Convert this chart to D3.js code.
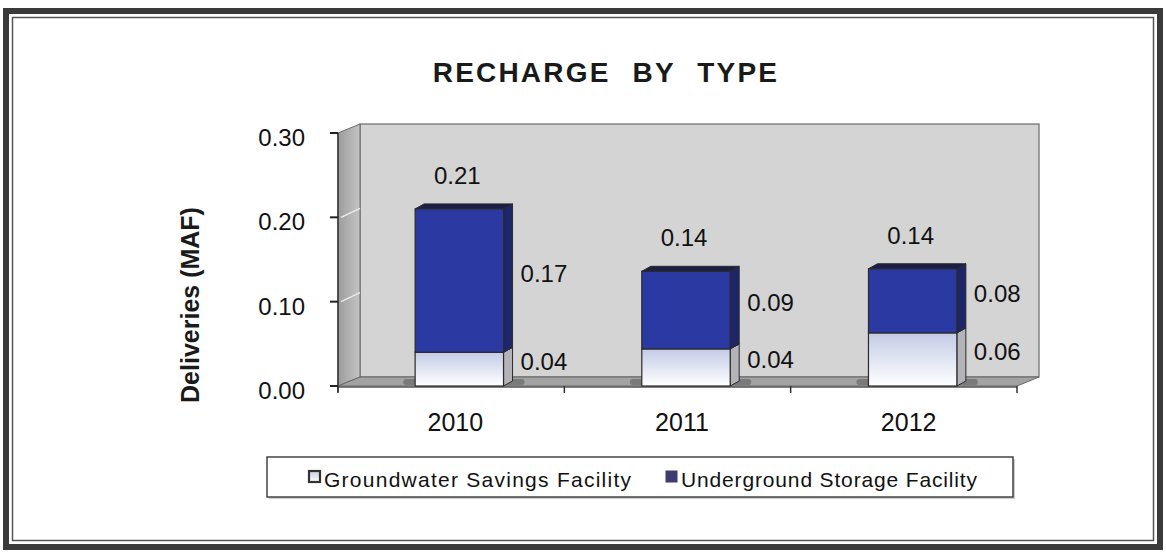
<!DOCTYPE html>
<html><head><meta charset="utf-8">
<script src="https://cdn.jsdelivr.net/npm/d3@7"></script>
<style>html,body{margin:0;padding:0;background:#fff;}svg{display:block;font-family:Arial,"Liberation Sans",sans-serif;}</style>
</head><body>
<svg id="c" width="1166" height="553"></svg>
<script>
const categories = ["2010", "2011", "2012"];
const seriesNames = ["Groundwater Savings Facility", "Underground Storage Facility"];
const groundwaterSavings = [0.04, 0.044, 0.063];
const undergroundStorage = [0.17, 0.092, 0.076];
const yTicks = [0.00, 0.10, 0.20, 0.30];
const titleText = "RECHARGE BY TYPE";
const yTitle = "Deliveries (MAF)";

const svg = d3.select("#c");
const W = 1166, H = 553;
svg.append("rect").attr("width", W).attr("height", H).attr("fill", "#fff");

const defs = svg.append("defs");
const g1 = defs.append("linearGradient").attr("id", "gsfGrad").attr("x1", 0).attr("y1", 0).attr("x2", 0).attr("y2", 1);
g1.append("stop").attr("offset", "0%").attr("stop-color", "#c3cbe6");
g1.append("stop").attr("offset", "100%").attr("stop-color", "#ffffff");
const g2 = defs.append("linearGradient").attr("id", "sideWall").attr("x1", 0).attr("y1", 0).attr("x2", 1).attr("y2", 0);
g2.append("stop").attr("offset", "0%").attr("stop-color", "#9c9c9c");
g2.append("stop").attr("offset", "100%").attr("stop-color", "#c4c4c4");
const g3 = defs.append("linearGradient").attr("id", "legGrad").attr("x1", 0).attr("y1", 0).attr("x2", 0).attr("y2", 1);
g3.append("stop").attr("offset", "0%").attr("stop-color", "#c8cde0");
g3.append("stop").attr("offset", "100%").attr("stop-color", "#ffffff");

// outer frame
svg.append("rect").attr("x", 6).attr("y", 11).attr("width", 1154).attr("height", 536)
  .attr("fill", "none").attr("stroke", "#3a3a3a").attr("stroke-width", 6);
svg.append("rect").attr("x", 12.5).attr("y", 17.5).attr("width", 1141).attr("height", 523)
  .attr("fill", "none").attr("stroke", "#555").attr("stroke-width", 1.5);

// title
svg.append("text").attr("x", 606).attr("y", 82).attr("text-anchor", "middle")
  .attr("font-size", 28).attr("font-weight", "bold").attr("fill", "#1a1a1a")
  .attr("letter-spacing", 2.2).attr("word-spacing", 12).text(titleText);

// scales
const y = d3.scaleLinear().domain([0, 0.30]).range([386, 133]);
const xFrame = d3.scaleBand().domain(categories).range([338, 1017]);
const x = d3.scaleBand().domain(categories).range([346, 1026]).paddingInner(0.61).paddingOuter(0.305);

const wallDX = 22, wallDY = -9;
const x0 = xFrame.range()[0], x1 = xFrame.range()[1];
const yTop = y(0.30), yBase = y(0);

// back wall
svg.append("rect").attr("x", x0 + wallDX).attr("y", yTop + wallDY).attr("width", x1 - x0)
  .attr("height", yBase - yTop).attr("fill", "#d4d4d4").attr("stroke", "#6a6a6a").attr("stroke-width", 1.2);
// side wall
svg.append("polygon").attr("points", [[x0, yTop], [x0 + wallDX, yTop + wallDY], [x0 + wallDX, yBase + wallDY], [x0, yBase]].join(" "))
  .attr("fill", "url(#sideWall)").attr("stroke", "#6a6a6a").attr("stroke-width", 1);
// side wall gridlines
svg.selectAll(".sg").data(yTicks.slice(1, 3)).join("line")
  .attr("x1", x0 + 3).attr("x2", x0 + wallDX).attr("y1", d => y(d)).attr("y2", d => y(d) + wallDY)
  .attr("stroke", "#eeeeee").attr("stroke-width", 1.2);
// floor
svg.append("polygon").attr("points", [[x0, yBase], [x0 + wallDX, yBase + wallDY], [x1 + wallDX, yBase + wallDY], [x1, yBase]].join(" "))
  .attr("fill", "#a3a3a3").attr("stroke", "#666").attr("stroke-width", 1);

// y axis
svg.append("line").attr("x1", x0).attr("x2", x0).attr("y1", yTop).attr("y2", yBase + 6).attr("stroke", "#333").attr("stroke-width", 1.5);
svg.selectAll(".yt").data(yTicks).join("line")
  .attr("x1", x0 - 8).attr("x2", x0).attr("y1", d => y(d)).attr("y2", d => y(d))
  .attr("stroke", "#222").attr("stroke-width", 2);
svg.selectAll(".yl").data(yTicks).join("text")
  .attr("x", 305).attr("y", d => y(d) + 13).attr("text-anchor", "end")
  .attr("font-size", 24).attr("fill", "#111").text(d => d.toFixed(2));

// x axis
svg.append("line").attr("x1", x0).attr("x2", x1).attr("y1", yBase + 1).attr("y2", yBase + 1).attr("stroke", "#555").attr("stroke-width", 1.5);
const xTickPos = categories.map(c => xFrame(c)).concat([x1]);
svg.selectAll(".xt").data(xTickPos).join("line")
  .attr("x1", d => d).attr("x2", d => d).attr("y1", yBase).attr("y2", yBase + 7)
  .attr("stroke", "#333").attr("stroke-width", 1.5);
svg.selectAll(".xl").data(categories).join("text")
  .attr("x", c => x(c) + x.bandwidth() / 2 - 4).attr("y", 431).attr("text-anchor", "middle")
  .attr("font-size", 25).attr("fill", "#111").text(c => c);

// y title
svg.append("text").attr("transform", "translate(199,305) rotate(-90)").attr("text-anchor", "middle")
  .attr("font-size", 25).attr("font-weight", "bold").attr("fill", "#1a1a1a").text(yTitle);

// data
const rows = categories.map((c, i) => ({ cat: c, gsf: groundwaterSavings[i], usf: undergroundStorage[i] }));
const stack = d3.stack().keys(["gsf", "usf"])(rows);
const bw = x.bandwidth();
const dx = 9, dy = -5;

// base shadows
svg.selectAll(".shadow").data(rows).join("rect")
  .attr("x", d => x(d.cat) - 12).attr("y", yBase - 7).attr("width", bw + dx + 24).attr("height", 6)
  .attr("rx", 3).attr("fill", "#7a7a7a");

const styles = {
  gsf: { front: "url(#gsfGrad)", side: "#b4b4b8", top: "#e4e6ee" },
  usf: { front: "#2b3aa2", side: "#1c2668", top: "#1b1f48" }
};

stack.forEach(layer => {
  const key = layer.key, st = styles[key];
  const g = svg.append("g");
  layer.forEach(seg => {
    const c = seg.data.cat;
    const xl = x(c), xr = xl + bw;
    const yt = y(seg[1]), yb = y(seg[0]);
    g.append("polygon").attr("points", [[xr, yt], [xr + dx, yt + dy], [xr + dx, yb + dy], [xr, yb]].join(" "))
      .attr("fill", st.side).attr("stroke", "#2a2a2a").attr("stroke-width", 1);
    g.append("polygon").attr("points", [[xl, yt], [xl + dx, yt + dy], [xr + dx, yt + dy], [xr, yt]].join(" "))
      .attr("fill", st.top).attr("stroke", "#2a2a2a").attr("stroke-width", 1);
    g.append("rect").attr("x", xl).attr("y", yt).attr("width", bw).attr("height", yb - yt)
      .attr("fill", st.front).attr("stroke", "#2a2a2a").attr("stroke-width", 1.2);
  });
});

// segment labels
stack.forEach(layer => {
  svg.selectAll(".sl-" + layer.key).data(layer).join("text")
    .attr("x", d => x(d.data.cat) + bw + dx + 8)
    .attr("y", d => (y(d[0]) + y(d[1])) / 2 + 1)
    .attr("font-size", 24).attr("fill", "#111")
    .text(d => (d[1] - d[0]).toFixed(2));
});
// total labels
svg.selectAll(".tl").data(rows).join("text")
  .attr("x", d => x(d.cat) + bw / 2 - 2).attr("y", d => y(d.gsf + d.usf) - 25)
  .attr("text-anchor", "middle").attr("font-size", 24).attr("fill", "#111")
  .text(d => (d.gsf + d.usf).toFixed(2));

// legend
const leg = svg.append("g");
leg.append("rect").attr("x", 269).attr("y", 459).attr("width", 746).attr("height", 40).attr("fill", "#cfcfcf");
leg.append("rect").attr("x", 267).attr("y", 457).attr("width", 746).attr("height", 40)
  .attr("fill", "#fff").attr("stroke", "#444").attr("stroke-width", 1.5);
const legItems = [
  { name: seriesNames[0], mx: 309, tx: 324, len: 307, fill: "url(#legGrad)", stroke: "#333", sw: 2.2 },
  { name: seriesNames[1], mx: 666, tx: 681, len: 296, fill: "#3d3d70", stroke: "#3d3d70", sw: 1 }
];
leg.selectAll(".lm").data(legItems).join("rect")
  .attr("x", d => d.mx).attr("y", 471).attr("width", 11).attr("height", 11)
  .attr("fill", d => d.fill).attr("stroke", d => d.stroke).attr("stroke-width", d => d.sw);
leg.selectAll(".lt").data(legItems).join("text")
  .attr("x", d => d.tx).attr("y", 487).attr("font-size", 21).attr("fill", "#111")
  .attr("textLength", d => d.len).attr("lengthAdjust", "spacing").text(d => d.name);
</script>
</body></html>
